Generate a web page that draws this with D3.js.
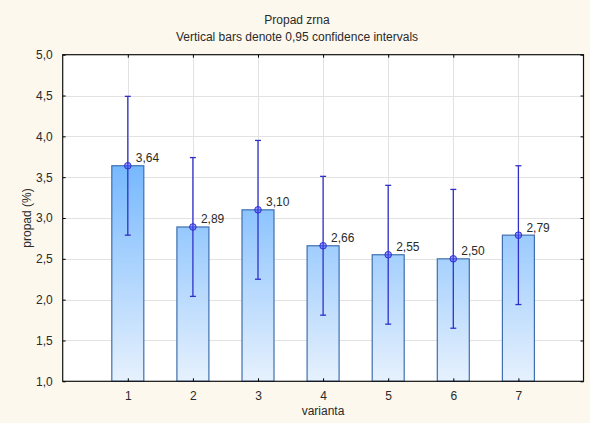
<!DOCTYPE html>
<html>
<head>
<meta charset="utf-8">
<script src="https://cdn.jsdelivr.net/npm/d3@7"></script>
<style>
  html, body { margin: 0; padding: 0; background: #fcf8ee; }
  svg { display: block; }
  text { font-family: "Liberation Sans", Arial, sans-serif; fill: #2a2a2a; }
</style>
</head>
<body>
<svg id="chart" width="590" height="423"></svg>
<script>
// Grain loss by variant: means with 0.95 confidence limits
const categories = ["1", "2", "3", "4", "5", "6", "7"];
const means      = [3.64, 2.89, 3.10, 2.66, 2.55, 2.50, 2.79];
const ciLower    = [2.79, 2.04, 2.25, 1.81, 1.70, 1.65, 1.94];
const ciUpper    = [4.49, 3.74, 3.95, 3.51, 3.40, 3.35, 3.64];
const yTicks     = [1.0, 1.5, 2.0, 2.5, 3.0, 3.5, 4.0, 4.5, 5.0];
const labels     = ["3,64", "2,89", "3,10", "2,66", "2,55", "2,50", "2,79"];

const svg = d3.select("#chart");
const margin = { left: 62.7, top: 54.7, right: 590 - 583.5, bottom: 423 - 381.3 };
const W = 590, H = 423;

const x = d3.scaleLinear().domain([0, categories.length + 1]).range([margin.left, W - margin.right]);
const y = d3.scaleLinear().domain([1, 5]).range([H - margin.bottom, margin.top]);
const fmt = d => d.toFixed(1).replace(".", ",");

// Plot area background
svg.append("rect")
  .attr("x", x(0)).attr("y", y(5))
  .attr("width", x(8) - x(0)).attr("height", y(1) - y(5))
  .attr("fill", "#ffffff");

// Bar gradient spans the whole plot height
const defs = svg.append("defs");
const grad = defs.append("linearGradient")
  .attr("id", "barGrad").attr("gradientUnits", "userSpaceOnUse")
  .attr("x1", 0).attr("x2", 0).attr("y1", y(5)).attr("y2", y(1));
grad.append("stop").attr("offset", "0%").attr("stop-color", "#3d9bff");
grad.append("stop").attr("offset", "100%").attr("stop-color", "#e6f1fd");

// Grid lines
const grid = svg.append("g").attr("stroke", "#e2e2e2").attr("stroke-width", 1);
grid.selectAll("line.h").data(yTicks.slice(1, -1)).join("line")
  .attr("x1", x(0)).attr("x2", x(8))
  .attr("y1", d => Math.round(y(d)) + 0.5).attr("y2", d => Math.round(y(d)) + 0.5);
grid.selectAll("line.v").data(categories).join("line")
  .attr("y1", y(5)).attr("y2", y(1))
  .attr("x1", (d, i) => Math.round(x(i + 1)) + 0.5).attr("x2", (d, i) => Math.round(x(i + 1)) + 0.5);

// Bars
const barW = 32;
svg.append("g").selectAll("rect").data(means).join("rect")
  .attr("x", (d, i) => x(i + 1) - barW / 2)
  .attr("y", d => y(d))
  .attr("width", barW)
  .attr("height", d => y(1) - y(d))
  .attr("fill", "url(#barGrad)")
  .attr("stroke", "#3f6fae")
  .attr("stroke-width", 1.2);

// Confidence interval whiskers
const eb = svg.append("g").attr("stroke", "#3030c8").attr("stroke-width", 1.3);
eb.selectAll("line.v").data(means).join("line")
  .attr("x1", (d, i) => x(i + 1)).attr("x2", (d, i) => x(i + 1))
  .attr("y1", (d, i) => y(ciUpper[i])).attr("y2", (d, i) => y(ciLower[i]));
eb.selectAll("line.top").data(means).join("line")
  .attr("x1", (d, i) => x(i + 1) - 3).attr("x2", (d, i) => x(i + 1) + 3)
  .attr("y1", (d, i) => y(ciUpper[i])).attr("y2", (d, i) => y(ciUpper[i]));
eb.selectAll("line.bot").data(means).join("line")
  .attr("x1", (d, i) => x(i + 1) - 3).attr("x2", (d, i) => x(i + 1) + 3)
  .attr("y1", (d, i) => y(ciLower[i])).attr("y2", (d, i) => y(ciLower[i]));

// Mean markers
svg.append("g").selectAll("circle").data(means).join("circle")
  .attr("cx", (d, i) => x(i + 1)).attr("cy", d => y(d)).attr("r", 3.3)
  .attr("fill", "rgba(70,70,255,0.5)")
  .attr("stroke", "#3030d0").attr("stroke-width", 1);

// Value labels
svg.append("g").selectAll("text").data(means).join("text")
  .attr("x", (d, i) => x(i + 1) + 8).attr("y", d => y(d) - 3.5)
  .attr("font-size", 12).text((d, i) => labels[i]);

// Plot frame
svg.append("rect")
  .attr("x", x(0)).attr("y", y(5))
  .attr("width", x(8) - x(0)).attr("height", y(1) - y(5))
  .attr("fill", "none").attr("stroke", "#111").attr("stroke-width", 1.2);

// Axes with inward ticks
const xAxis = d3.axisBottom(x).tickValues(d3.range(1, 8)).tickSize(-3).tickPadding(10)
  .tickFormat(d => categories[d - 1]);
svg.append("g").attr("transform", `translate(0,${y(1)})`).call(xAxis)
  .call(g => g.select(".domain").remove())
  .call(g => g.selectAll("text").attr("font-size", 12).attr("fill", "#2a2a2a"));
svg.append("g").attr("transform", `translate(0,${y(5)})`)
  .call(d3.axisTop(x).tickValues(d3.range(1, 8)).tickSize(-3).tickFormat(""))
  .call(g => g.select(".domain").remove());

const yAxis = d3.axisLeft(y).tickValues(yTicks).tickSize(-3).tickPadding(10).tickFormat(fmt);
svg.append("g").attr("transform", `translate(${x(0)},0)`).call(yAxis)
  .call(g => g.select(".domain").remove())
  .call(g => g.selectAll("text").attr("font-size", 12).attr("fill", "#2a2a2a"));
svg.append("g").attr("transform", `translate(${x(8)},0)`)
  .call(d3.axisRight(y).tickValues(yTicks).tickSize(-3).tickFormat(""))
  .call(g => g.select(".domain").remove());

// Titles
svg.append("text").attr("x", 297).attr("y", 24).attr("text-anchor", "middle")
  .attr("font-size", 12).text("Propad zrna");
svg.append("text").attr("x", 297).attr("y", 41).attr("text-anchor", "middle")
  .attr("font-size", 12).text("Vertical bars denote 0,95 confidence intervals");
svg.append("text").attr("x", 323).attr("y", 415).attr("text-anchor", "middle")
  .attr("font-size", 12).text("varianta");
svg.append("text").attr("transform", `translate(31,${(y(1) + y(5)) / 2}) rotate(-90)`)
  .attr("text-anchor", "middle").attr("font-size", 12).text("propad (%)");
</script>
</body>
</html>
